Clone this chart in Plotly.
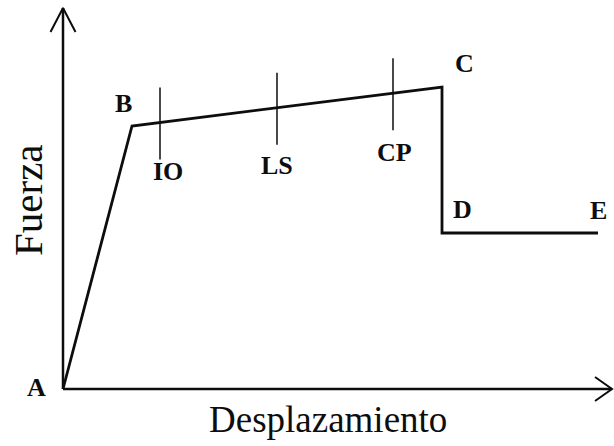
import numpy as np
import plotly.graph_objects as go

# Curva de capacidad (unidades arbitrarias)
points = ["A", "B", "C", "D", "E"]
desplazamiento = [0, 69, 379, 379, 535]
fuerza = [0, 263, 302, 156, 156]

# Niveles de desempeño sobre el tramo B-C
levels = ["IO", "LS", "CP"]
level_x = [97, 214, 330]

X_MAX = 549
Y_MAX = 381
INK = "#0d0d0d"
SERIF = "Liberation Serif, Times New Roman, serif"

fig = go.Figure()

# ejes con flecha abierta
fig.add_trace(go.Scatter(
    x=[0, 0, None, 0, X_MAX], y=[Y_MAX, 0, None, 0, 0],
    mode="lines", line=dict(color=INK, width=2.5), hoverinfo="skip",
))
fig.add_trace(go.Scatter(
    x=[-12.5, 0, 12.5, None, X_MAX - 17, X_MAX, X_MAX - 17],
    y=[Y_MAX - 24, Y_MAX, Y_MAX - 24, None, 12, 0, -12],
    mode="lines", line=dict(color=INK, width=2), hoverinfo="skip",
))

# curva fuerza-desplazamiento
fig.add_trace(go.Scatter(
    x=desplazamiento, y=fuerza, mode="lines",
    line=dict(color=INK, width=2.8), hoverinfo="skip",
))

# marcas de nivel de desempeño
level_y = np.interp(level_x, desplazamiento[1:3], fuerza[1:3])
half = 35
tx, ty = [], []
for lx, ly in zip(level_x, level_y):
    tx += [lx, lx, None]
    ty += [ly + half, ly - half - 2, None]
fig.add_trace(go.Scatter(
    x=tx, y=ty, mode="lines", line=dict(color=INK, width=1.5), hoverinfo="skip",
))

label_font = dict(family=SERIF, size=26, color=INK)
point_shift = {"A": (-27, 2), "B": (-9, 23), "C": (22, 24), "D": (20, 24), "E": (0, 23)}
for name, px_, py_ in zip(points, desplazamiento, fuerza):
    dx, dy = point_shift[name]
    fig.add_annotation(x=px_, y=py_, text=f"<b>{name}</b>", showarrow=False,
                       xshift=dx, yshift=dy, font=label_font)

level_shift = {"IO": (8, -14), "LS": (0, -23), "CP": (1, -24)}
for name, lx, ly in zip(levels, level_x, level_y):
    dx, dy = level_shift[name]
    fig.add_annotation(x=lx, y=ly - half, text=f"<b>{name}</b>", showarrow=False,
                       xshift=dx, yshift=dy, font=label_font)

fig.add_annotation(x=328 / 614, y=1 - 442 / 446, xref="paper", yref="paper",
                   text="Desplazamiento", showarrow=False,
                   font=dict(family=SERIF, size=37, color=INK))
fig.add_annotation(x=3 / 614, y=1 - 200 / 446, xref="paper", yref="paper",
                   text="Fuerza", showarrow=False, textangle=-90,
                   font=dict(family=SERIF, size=41, color=INK))

fig.update_xaxes(range=[-63, 551], visible=False, fixedrange=True)
fig.update_yaxes(range=[-57, 389], visible=False, fixedrange=True)
fig.update_layout(
    width=614, height=446, margin=dict(l=0, r=0, t=0, b=0),
    showlegend=False, plot_bgcolor="white", paper_bgcolor="white",
)

# sin margen del body para que la figura ocupe toda la ventana
fig.write_html("out.html", config={"displayModeBar": False},
               post_script="document.body.style.margin='0';")
